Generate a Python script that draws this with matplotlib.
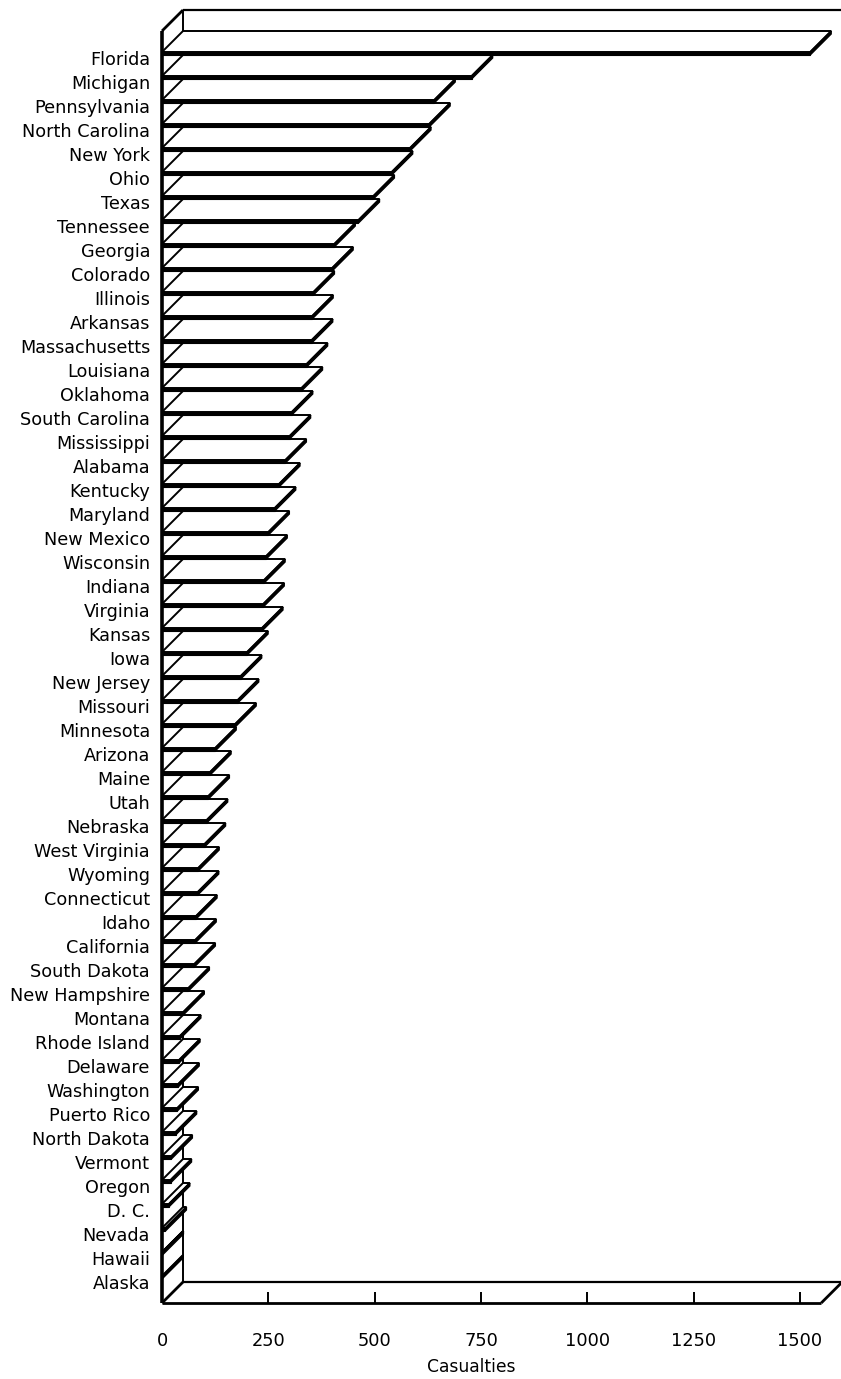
import matplotlib.pyplot as plt
from matplotlib.patches import Polygon

states = [
    "Florida", "Michigan", "Pennsylvania", "North Carolina", "New York",
    "Ohio", "Texas", "Tennessee", "Georgia", "Colorado", "Illinois",
    "Arkansas", "Massachusetts", "Louisiana", "Oklahoma", "South Carolina",
    "Mississippi", "Alabama", "Kentucky", "Maryland", "New Mexico",
    "Wisconsin", "Indiana", "Virginia", "Kansas", "Iowa", "New Jersey",
    "Missouri", "Minnesota", "Arizona", "Maine", "Utah", "Nebraska",
    "West Virginia", "Wyoming", "Connecticut", "Idaho", "California",
    "South Dakota", "New Hampshire", "Montana", "Rhode Island", "Delaware",
    "Washington", "Puerto Rico", "North Dakota", "Vermont", "Oregon",
    "D. C.", "Nevada", "Hawaii", "Alaska",
]
casualties = [
    1524, 728, 640, 628, 583,
    540, 497, 462, 405, 400, 356,
    353, 352, 340, 328, 305,
    300, 290, 275, 265, 250,
    245, 240, 238, 235, 200, 185,
    178, 172, 125, 113, 109, 105,
    100, 85, 84, 80, 78,
    76, 62, 50, 42, 40,
    38, 36, 32, 22, 20,
    16, 8, 1, 0,
]
x_ticks = [0, 250, 500, 750, 1000, 1250, 1500]
axis_max = 1550

# depth of the 3-D effect, in data units (value along x, rows along y)
DX = 49.4
DY = 0.875
FACE = 0.125  # thickness of each bar's front face, in rows

fig = plt.figure(figsize=(8.41, 13.79), dpi=100)
fig.patch.set_facecolor("white")
ax = fig.add_axes([0.19263, 0.05511, 0.80737, 0.94489])

n = len(states)
floor = n + 0.125
ax.set_xlim(0, 1596.5)
ax.set_ylim(floor, -2.1667)
for s in ax.spines.values():
    s.set_visible(False)

line = dict(color="black", solid_capstyle="butt", clip_on=False)

# back wall and left wall outline
top_front = -DY
top_back = -2 * DY
ax.plot([DX, axis_max + DX + 60], [top_back, top_back], lw=1.6, zorder=1, **line)
ax.plot([DX, DX], [top_back, floor - DY], lw=1.4, zorder=1, **line)
ax.plot([0, DX], [top_front, top_back], lw=2.0, zorder=1, **line)

# floor
ax.plot([0, axis_max], [floor, floor], lw=2.0, zorder=20, **line)
ax.plot([DX, axis_max + DX], [floor - DY, floor - DY], lw=1.6, zorder=1, **line)
ax.plot([axis_max, axis_max + DX], [floor, floor - DY], lw=2.0, zorder=20, **line)
ax.plot([0, DX], [floor, floor - DY], lw=2.0, zorder=20, **line)

# bars, bottom row first so rows above sit on top
for i in range(n - 1, -1, -1):
    v = casualties[i]
    z = 2 + (n - i) * 0.1
    top = Polygon([(0, i), (v, i), (v + DX, i - DY), (DX, i - DY)],
                  closed=True, facecolor="white", edgecolor="black",
                  lw=1.4, joinstyle="miter", zorder=z, clip_on=False)
    front = Polygon([(0, i), (v, i), (v, i + FACE), (0, i + FACE)],
                    closed=True, facecolor="black", edgecolor="black",
                    lw=0.8, zorder=z + 0.01, clip_on=False)
    side = Polygon([(v, i + FACE), (v, i), (v + DX, i - DY),
                    (v + DX, i - DY + FACE)],
                   closed=True, facecolor="black", edgecolor="black",
                   lw=1.0, zorder=z + 0.02, clip_on=False)
    ax.add_patch(top)
    ax.add_patch(front)
    ax.add_patch(side)

# front vertical edge of the left wall
ax.plot([0, 0], [top_front, floor], lw=2.6, zorder=30, **line)

ax.set_yticks([i + 0.25 for i in range(n)])
ax.set_yticklabels(states)
ax.tick_params(axis="y", length=0, pad=8.6, labelsize=12.7)

ax.set_xticks(x_ticks)
ax.set_xticklabels([str(t) for t in x_ticks])
ax.tick_params(axis="x", direction="in", length=7.9, width=1.4, pad=21,
               labelsize=12.8)

ax.set_xlabel("Casualties", fontsize=12.3)
ax.xaxis.set_label_coords(0.455, -0.0491)
ax.xaxis.label.set_va("center")

fig.savefig("out.png", dpi=100)
